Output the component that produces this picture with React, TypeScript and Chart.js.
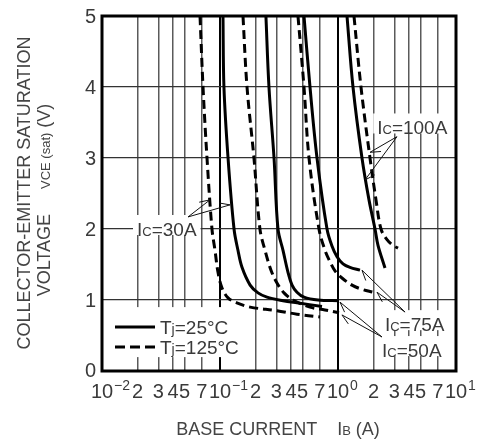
import React, { useEffect, useRef } from 'react';
import { Chart, registerables } from 'chart.js';

Chart.register(...registerables);

// ---------- axes ----------
const xMin = 0.01;
const xMax = 10;
const xDecades = [0.01, 0.1, 1, 10];
const xDecadeExponents = ['\u22122', '\u22121', '0', '1'];
const xMinorMultipliers = [2, 3, 4, 5, 7];
const yTicks = [0, 1, 2, 3, 4, 5];

// ---------- series: IB (A) and VCE(sat) (V) ----------
// Ic = 30A, Tj = 125°C (dashed)
const ic30HotIb = [0.0677, 0.0718, 0.0776, 0.0855, 0.0907, 0.0962, 0.104, 0.117, 0.139, 0.18, 0.304, 0.449, 0.704];
const ic30HotV = [5.0, 4.0, 3.0, 2.0, 1.7, 1.39, 1.17, 1.03, 0.96, 0.9, 0.85, 0.8, 0.76];
// Ic = 30A, Tj = 25°C (solid)
const ic30ColdIb = [0.106, 0.108, 0.117, 0.1315, 0.142, 0.1536, 0.18, 0.21, 0.25, 0.342, 0.449, 0.732];
const ic30ColdV = [5.0, 4.0, 3.0, 2.0, 1.7, 1.46, 1.21, 1.1, 1.04, 0.99, 0.96, 0.91];
// Ic = 50A, Tj = 125°C
const ic50HotIb = [0.1566, 0.1694, 0.194, 0.218, 0.2406, 0.2705, 0.304, 0.3486, 0.4156, 0.579, 0.776, 1.02];
const ic50HotV = [5.0, 4.0, 3.0, 2.0, 1.7, 1.42, 1.24, 1.1, 1.0, 0.9, 0.86, 0.82];
// Ic = 50A, Tj = 25°C
const ic50ColdIb = [0.245, 0.26, 0.287, 0.31, 0.342, 0.377, 0.408, 0.449, 0.515, 0.677, 1.02];
const ic50ColdV = [5.0, 4.0, 3.0, 2.0, 1.7, 1.39, 1.21, 1.11, 1.04, 1.0, 0.99];
// Ic = 75A, Tj = 125°C
const ic75HotIb = [0.458, 0.515, 0.568, 0.69, 0.776, 0.855, 0.943, 1.081, 1.314, 1.597, 1.98];
const ic75HotV = [5.0, 4.0, 3.0, 2.0, 1.7, 1.54, 1.41, 1.31, 1.21, 1.15, 1.11];
// Ic = 75A, Tj = 25°C
const ic75ColdIb = [0.515, 0.579, 0.664, 0.807, 0.889, 0.981, 1.103, 1.264, 1.536];
const ic75ColdV = [5.0, 4.0, 3.0, 2.0, 1.76, 1.61, 1.51, 1.46, 1.42];
// Ic = 100A, Tj = 125°C
const ic100HotIb = [1.366, 1.566, 1.867, 2.099, 2.314, 2.602, 2.925, 3.225];
const ic100HotV = [5.0, 4.0, 3.0, 2.41, 2.0, 1.85, 1.77, 1.73];
// Ic = 100A, Tj = 25°C
const ic100ColdIb = [1.192, 1.34, 1.597, 1.831, 2.059, 2.183, 2.502];
const ic100ColdV = [5.0, 4.0, 3.0, 2.41, 2.0, 1.77, 1.45];

// ---------- legend ----------
const legendLabels = [
  { main: 'T', sub: 'j', rest: '=25°C', dashed: false },
  { main: 'T', sub: 'j', rest: '=125°C', dashed: true },
];

// ---------- annotations (label anchor and arrow targets in data units) ----------
const annotations = [
  { value: '=30A', labelIb: 0.0198, labelV: 2.0, fromIb: 0.0536, fromV: 2.17, targets: [[0.0822, 2.41], [0.1216, 2.34]] },
  { value: '=100A', labelIb: 2.15, labelV: 3.43, fromIb: 3.16, fromV: 3.3, targets: [[1.867, 3.08], [1.693, 2.69]] },
  { value: '=75A', labelIb: 2.5, labelV: 0.66, fromIb: 3.7, fromV: 0.83, targets: [[1.597, 1.42], [2.14, 1.11]] },
  { value: '=50A', labelIb: 2.36, labelV: 0.295, fromIb: 2.36, fromV: 0.479, targets: [[1.04, 0.97], [1.08, 0.79]] },
];

const FONT = '"Liberation Sans", Arial, Helvetica, sans-serif';
const TEXT = '#3a3a3a';

type Part = { t: string; size: number; dy?: number };

function richWidth(ctx: CanvasRenderingContext2D, parts: Part[]) {
  let w = 0;
  for (const p of parts) {
    ctx.font = `${p.size}px ${FONT}`;
    w += ctx.measureText(p.t).width;
  }
  return w;
}

function drawRich(ctx: CanvasRenderingContext2D, parts: Part[], x: number, y: number, align: 'left' | 'center' | 'right') {
  const total = richWidth(ctx, parts);
  let cx = align === 'center' ? x - total / 2 : align === 'right' ? x - total : x;
  ctx.textAlign = 'left';
  ctx.textBaseline = 'alphabetic';
  for (const p of parts) {
    ctx.font = `${p.size}px ${FONT}`;
    ctx.fillText(p.t, cx, y + (p.dy || 0));
    cx += ctx.measureText(p.t).width;
  }
  return total;
}

function isDecade(v: number) {
  const l = Math.log10(v);
  return Math.abs(l - Math.round(l)) < 1e-6;
}

function toPoints(xs: number[], ys: number[]) {
  return xs.map((x, i) => ({ x, y: ys[i] }));
}

const xTickValues: number[] = [];
xDecades.slice(0, 3).forEach((d) => {
  xTickValues.push(d);
  xMinorMultipliers.forEach((m) => xTickValues.push(d * m));
});
xTickValues.push(xDecades[3]);

function annParts(value: string): Part[] {
  return [
    { t: 'I', size: 19 },
    { t: 'C', size: 13 },
    { t: value, size: 19 },
  ];
}

const drawPlugin = {
  id: 'datasheetDecor',
  beforeDatasetsDraw(chart: any) {
    const { ctx, scales } = chart;
    const xs = scales.x;
    const ys = scales.y;
    ctx.save();
    ctx.fillStyle = '#fff';
    // legend background
    ctx.fillRect(xs.left + 1, ys.getPixelForValue(0.9), 144, 50);
    // annotation label backgrounds
    annotations.forEach((a) => {
      const px = xs.getPixelForValue(a.labelIb);
      const py = ys.getPixelForValue(a.labelV);
      const w = richWidth(ctx, annParts(a.value));
      ctx.fillStyle = '#fff';
      ctx.fillRect(px - 4, py - 14, w + 8, 20);
    });
    ctx.restore();
  },
  afterDatasetsDraw(chart: any) {
    const { ctx, scales, chartArea } = chart;
    const xs = scales.x;
    const ys = scales.y;
    ctx.save();
    // annotations
    annotations.forEach((a) => {
      const px = xs.getPixelForValue(a.labelIb);
      const py = ys.getPixelForValue(a.labelV);
      ctx.fillStyle = TEXT;
      drawRich(ctx, annParts(a.value), px, py + 7, 'left');
      const fx = xs.getPixelForValue(a.fromIb);
      const fy = ys.getPixelForValue(a.fromV);
      ctx.strokeStyle = '#111';
      ctx.lineWidth = 1;
      a.targets.forEach(([tIb, tV]) => {
        const tx = xs.getPixelForValue(tIb);
        const ty = ys.getPixelForValue(tV);
        ctx.beginPath();
        ctx.moveTo(fx, fy);
        ctx.lineTo(tx, ty);
        const ang = Math.atan2(fy - ty, fx - tx);
        ctx.moveTo(tx, ty);
        ctx.lineTo(tx + 11 * Math.cos(ang + 0.45), ty + 11 * Math.sin(ang + 0.45));
        ctx.stroke();
      });
    });
    // legend
    const lx0 = xs.left + 13;
    const lx1 = xs.left + 53;
    legendLabels.forEach((l, i) => {
      const y = ys.getPixelForValue(0.62) + i * 20;
      ctx.strokeStyle = '#000';
      ctx.lineWidth = 3;
      ctx.setLineDash(l.dashed ? [10, 5] : []);
      ctx.beginPath();
      ctx.moveTo(lx0, y);
      ctx.lineTo(lx1, y);
      ctx.stroke();
      ctx.setLineDash([]);
      ctx.fillStyle = TEXT;
      drawRich(ctx, [{ t: l.main, size: 19 }, { t: l.sub, size: 14 }, { t: l.rest, size: 19 }], lx1 + 5, y + 7, 'left');
    });
    // frame
    ctx.strokeStyle = '#000';
    ctx.lineWidth = 3;
    ctx.strokeRect(chartArea.left, chartArea.top, chartArea.right - chartArea.left, chartArea.bottom - chartArea.top);
    ctx.restore();
  },
  afterDraw(chart: any) {
    const { ctx, scales } = chart;
    const xs = scales.x;
    const ys = scales.y;
    ctx.save();
    ctx.fillStyle = TEXT;
    // y tick labels
    ctx.font = `20px ${FONT}`;
    ctx.textAlign = 'right';
    yTicks.forEach((v) => {
      const py = ys.getPixelForValue(v);
      ctx.textBaseline = v === 0 ? 'alphabetic' : 'middle';
      ctx.fillText(String(v), xs.left - 6, v === 0 ? py + 6 : py + 1);
    });
    // x tick labels
    const base = ys.bottom + 27;
    xDecades.forEach((d, i) => {
      const px = xs.getPixelForValue(d);
      ctx.font = `20px ${FONT}`;
      const w10 = ctx.measureText('10').width;
      ctx.textAlign = 'left';
      ctx.textBaseline = 'alphabetic';
      ctx.fillText('10', px - w10 / 2, base);
      ctx.font = `14px ${FONT}`;
      ctx.fillText(xDecadeExponents[i], px + w10 / 2 + 1, base - 8);
      if (i < 3) {
        xMinorMultipliers.forEach((m) => {
          const mx = xs.getPixelForValue(d * m);
          ctx.font = `20px ${FONT}`;
          ctx.textAlign = 'center';
          ctx.fillText(String(m), mx, base);
        });
      }
    });
    // x title
    ctx.fillStyle = '#444';
    drawRich(
      ctx,
      [
        { t: 'BASE CURRENT', size: 18 },
        { t: '    I', size: 18 },
        { t: 'B', size: 13 },
        { t: ' (A)', size: 18 },
      ],
      278,
      435,
      'center'
    );
    // y title
    ctx.save();
    ctx.translate(30, 193);
    ctx.rotate(-Math.PI / 2);
    drawRich(ctx, [{ t: 'COLLECTOR-EMITTER SATURATION', size: 18 }], 0, 0, 'center');
    ctx.restore();
    ctx.save();
    ctx.translate(50, 200);
    ctx.rotate(-Math.PI / 2);
    drawRich(
      ctx,
      [
        { t: 'VOLTAGE', size: 18 },
        { t: '     ', size: 18 },
        { t: 'VCE (sat)', size: 13 },
        { t: ' (V)', size: 18 },
      ],
      0,
      0,
      'center'
    );
    ctx.restore();
    ctx.restore();
  },
};

const series = [
  { ib: ic30HotIb, v: ic30HotV, dashed: true },
  { ib: ic30ColdIb, v: ic30ColdV, dashed: false },
  { ib: ic50HotIb, v: ic50HotV, dashed: true },
  { ib: ic50ColdIb, v: ic50ColdV, dashed: false },
  { ib: ic75HotIb, v: ic75HotV, dashed: true },
  { ib: ic75ColdIb, v: ic75ColdV, dashed: false },
  { ib: ic100HotIb, v: ic100HotV, dashed: true },
  { ib: ic100ColdIb, v: ic100ColdV, dashed: false },
];

export default function App() {
  const ref = useRef<HTMLCanvasElement | null>(null);
  useEffect(() => {
    if (!ref.current) return;
    const chart = new Chart(ref.current, {
      type: 'line',
      data: {
        datasets: series.map((s) => ({
          data: toPoints(s.ib, s.v),
          borderColor: '#000',
          borderWidth: 3,
          borderDash: s.dashed ? [9, 5] : [],
          pointRadius: 0,
          fill: false,
          tension: 0.35,
        })),
      },
      options: {
        responsive: false,
        animation: false,
        events: [],
        layout: { padding: { left: 102, right: 26, top: 16, bottom: 68 } },
        plugins: { legend: { display: false }, tooltip: { enabled: false }, title: { display: false } },
        scales: {
          x: {
            type: 'logarithmic',
            min: xMin,
            max: xMax,
            afterBuildTicks: (scale: any) => {
              scale.ticks = xTickValues.map((value) => ({ value }));
            },
            ticks: { display: false },
            grid: {
              drawTicks: false,
              color: (c: any) => (c.tick && isDecade(c.tick.value) ? '#000' : '#5a5a5a'),
              lineWidth: (c: any) => (c.tick && isDecade(c.tick.value) ? 2 : 1.5),
            },
            border: { display: false },
          },
          y: {
            type: 'linear',
            min: 0,
            max: 5,
            ticks: { display: false, stepSize: 1 },
            grid: { drawTicks: false, color: '#333', lineWidth: 1.2 },
            border: { display: false },
          },
        },
      },
      plugins: [drawPlugin],
    });
    return () => chart.destroy();
  }, []);
  return (
    <div style={{ position: 'fixed', left: 0, top: 0, width: 482, height: 439, background: '#fff' }}>
      <canvas ref={ref} width={482} height={439} style={{ display: 'block' }} />
    </div>
  );
}
